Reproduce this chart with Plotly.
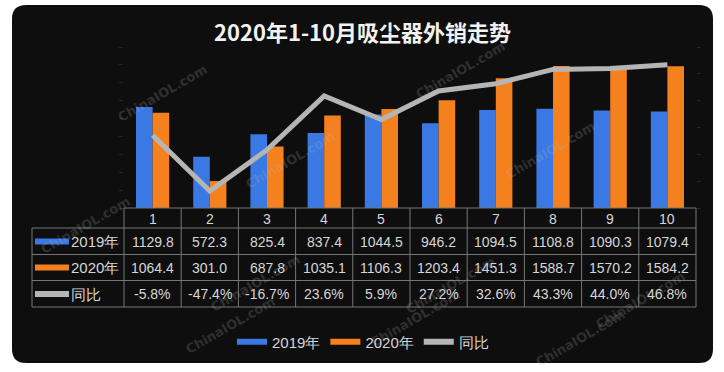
import plotly.graph_objects as go

# ---------------- data ----------------
months = ["1", "2", "3", "4", "5", "6", "7", "8", "9", "10"]
sales_2019 = [1129.8, 572.3, 825.4, 837.4, 1044.5, 946.2, 1094.5, 1108.8, 1090.3, 1079.4]
sales_2020 = [1064.4, 301.0, 687.8, 1035.1, 1106.3, 1203.4, 1451.3, 1588.7, 1570.2, 1584.2]
yoy_pct = [-5.8, -47.4, -16.7, 23.6, 5.9, 27.2, 32.6, 43.3, 44.0, 46.8]
series_names = ["2019年", "2020年", "同比"]
title_text = "2020年1-10月吸尘器外销走势"
watermark = "ChinaIOL.com"

# ---------------- styling ----------------
W, H = 724, 372
BLUE = "#3a78e4"
ORANGE = "#f5801e"
GRAY = "#b5b5b5"
TXT = "#d6d6d6"
GRID = "#767676"
FONT = "Liberation Sans, Arial, sans-serif"

def px(x):
    return x / W

def py(y):
    return 1 - y / H

xs = list(range(1, len(months) + 1))

fig = go.Figure()
fig.add_trace(go.Bar(x=xs, y=sales_2019, name=series_names[0], marker_color=BLUE,
                     marker_line_width=0, showlegend=False))
fig.add_trace(go.Bar(x=xs, y=sales_2020, name=series_names[1], marker_color=ORANGE,
                     marker_line_width=0, showlegend=False))
fig.add_trace(go.Scatter(x=xs, y=yoy_pct, name=series_names[2], mode="lines",
                         line=dict(color=GRAY, width=5), yaxis="y2", showlegend=False))
# legend entries (Excel-style long swatches)
for nm, col in zip(series_names, [BLUE, ORANGE, GRAY]):
    fig.add_trace(go.Scatter(x=[None], y=[None], mode="lines", name=nm,
                             line=dict(color=col, width=6)))

shapes = []
# dark rounded panel
x0, x1, y0, y1 = px(12), px(713), py(363), py(5)
rx, ry = 14 / W, 14 / H
path = (f"M{x0+rx},{y0} L{x1-rx},{y0} Q{x1},{y0} {x1},{y0+ry} L{x1},{y1-ry} "
        f"Q{x1},{y1} {x1-rx},{y1} L{x0+rx},{y1} Q{x0},{y1} {x0},{y1-ry} "
        f"L{x0},{y0+ry} Q{x0},{y0} {x0+rx},{y0} Z")
shapes.append(dict(type="path", xref="paper", yref="paper", path=path,
                   fillcolor="#0e0e0e", line=dict(width=0), layer="below"))

# data table grid
tl, tr = 124, 696
row_lines = [208, 228, 254.5, 280.5, 307]
col_w = (tr - tl) / len(months)
for i, yy in enumerate(row_lines):
    shapes.append(dict(type="line", xref="paper", yref="paper",
                       x0=px(tl if i == 0 else 32), x1=px(tr), y0=py(yy), y1=py(yy),
                       line=dict(color=GRID, width=1)))
shapes.append(dict(type="line", xref="paper", yref="paper", x0=px(32), x1=px(32),
                   y0=py(228), y1=py(307), line=dict(color=GRID, width=1)))
for k in range(len(months) + 1):
    xx = tl + k * col_w
    shapes.append(dict(type="line", xref="paper", yref="paper", x0=px(xx), x1=px(xx),
                       y0=py(208), y1=py(307), line=dict(color=GRID, width=1)))

# row label swatches
row_centers = [241.5, 267.5, 294]
for yc, col in zip(row_centers, [BLUE, ORANGE, GRAY]):
    shapes.append(dict(type="line", xref="paper", yref="paper", x0=px(35), x1=px(69),
                       y0=py(yc), y1=py(yc), line=dict(color=col, width=6)))

annotations = []
annotations.append(dict(text=f"<b>{title_text}</b>", x=px(362), y=py(31), xref="paper", yref="paper",
                        xanchor="center", yanchor="middle", showarrow=False,
                        font=dict(size=22, color="#f2f2f2", family="Noto Sans CJK SC")))
# header
for xv, m in zip(xs, months):
    annotations.append(dict(text=m, x=xv, y=py(218.5), xref="x", yref="paper", showarrow=False,
                            xanchor="center", yanchor="middle",
                            font=dict(size=14, color=TXT, family=FONT)))
rows = [[f"{v:.1f}" for v in sales_2019],
        [f"{v:.1f}" for v in sales_2020],
        [f"{v:.1f}%" for v in yoy_pct]]
for yc, vals, nm in zip(row_centers, rows, series_names):
    annotations.append(dict(text=nm, x=px(69), y=py(yc), xref="paper", yref="paper",
                            xanchor="left", yanchor="middle", showarrow=False,
                            font=dict(size=15, color=TXT, family=FONT)))
    for xv, t in zip(xs, vals):
        annotations.append(dict(text=t, x=xv, y=py(yc), xref="x", yref="paper", showarrow=False,
                                xanchor="center", yanchor="middle",
                                font=dict(size=14, color=TXT, family=FONT)))

# watermarks
for wx, wy in [(162, 93), (460, 70), (290, 160), (550, 150), (85, 225), (255, 283),
               (450, 285), (640, 300), (230, 325), (415, 318), (580, 338)]:
    annotations.append(dict(text=f"<b>{watermark}</b>", x=px(wx), y=py(wy), xref="paper",
                            yref="paper", xanchor="center", yanchor="middle",
                            showarrow=False, textangle=-30,
                            font=dict(size=13, color="rgba(190,190,190,0.2)", family="DejaVu Sans")))

fig.update_layout(
    width=W, height=H, margin=dict(l=0, r=0, t=0, b=0),
    paper_bgcolor="white", plot_bgcolor="rgba(0,0,0,0)",
    barmode="group", bargap=0.42, bargroupgap=0,
    xaxis=dict(domain=[px(tl), px(tr)], range=[0.5, len(months) + 0.5], showticklabels=False,
               showgrid=False, zeroline=False, showline=False, ticks=""),
    yaxis=dict(domain=[py(208), py(47)], range=[0, 1800], dtick=200, showticklabels=False,
               showgrid=False, zeroline=False, showline=False, ticks="outside", ticklen=4,
               tickcolor="#262626"),
    yaxis2=dict(overlaying="y", side="right", range=[-60, 60], dtick=20, showticklabels=False,
                showgrid=False, zeroline=False, showline=False, ticks="outside", ticklen=4,
                tickcolor="#262626"),
    legend=dict(orientation="h", x=px(363), xanchor="center", y=py(342), yanchor="middle",
                bgcolor="rgba(0,0,0,0)", font=dict(size=15, color=TXT, family=FONT),
                itemwidth=30, traceorder="normal"),
    shapes=shapes, annotations=annotations,
)

fig.write_html("out.html", config={"displayModeBar": False},
               post_script="document.body.style.margin='0';")
